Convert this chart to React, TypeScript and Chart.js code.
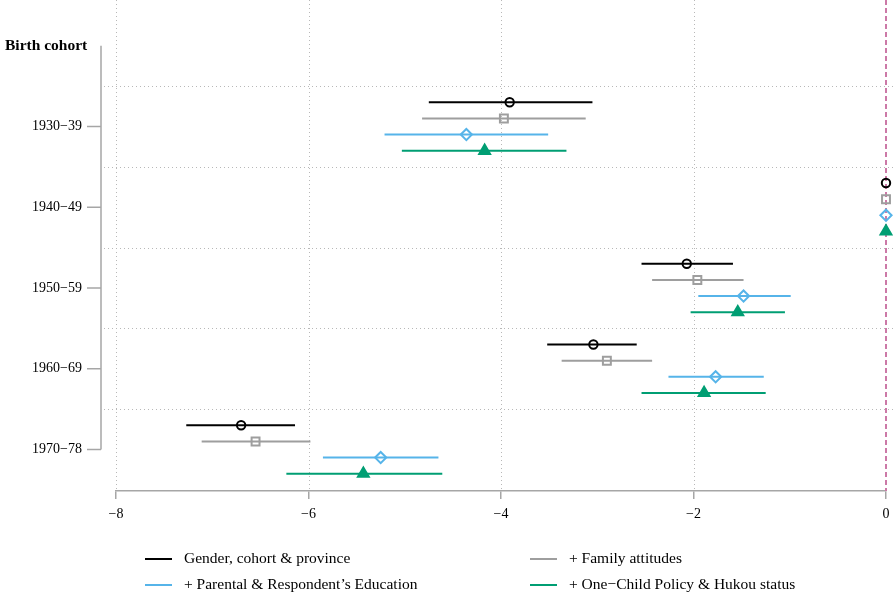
import React, { useEffect, useRef } from 'react';
import { Chart, registerables } from 'chart.js';

Chart.register(...registerables);

// ---- data ----
const cohorts = ['1930\u221239', '1940\u221249', '1950\u221259', '1960\u221269', '1970\u221278'];
const headerLabel = 'Birth cohort';
const seriesLabels = [
  'Gender, cohort & province',
  '+ Family attitudes',
  '+ Parental & Respondent\u2019s Education',
  '+ One\u2212Child Policy & Hukou status',
];
const xTicks = [-8, -6, -4, -2, 0];

const est1 = [-3.91, 0, -2.07, -3.04, -6.70];
const lo1 = [-4.75, 0, -2.54, -3.52, -7.27];
const hi1 = [-3.05, 0, -1.59, -2.59, -6.14];

const est2 = [-3.97, 0, -1.96, -2.90, -6.55];
const lo2 = [-4.82, 0, -2.43, -3.37, -7.11];
const hi2 = [-3.12, 0, -1.48, -2.43, -5.98];

const est3 = [-4.36, 0, -1.48, -1.77, -5.25];
const lo3 = [-5.21, 0, -1.95, -2.26, -5.85];
const hi3 = [-3.51, 0, -0.99, -1.27, -4.65];

const est4 = [-4.17, 0, -1.54, -1.89, -5.43];
const lo4 = [-5.03, 0, -2.03, -2.54, -6.23];
const hi4 = [-3.32, 0, -1.05, -1.25, -4.61];

// ---- styles ----
const colors = ['#000000', '#9e9e9e', '#56B4E9', '#009E73'];
const pointStyles = ['circle', 'rect', 'rectRot', 'triangle'];
const pointRadii = [4.2, 5.6, 5.6, 6.3];
const filled = [false, false, false, true];
const offsets = [-0.3, -0.1, 0.1, 0.3];
const W = 893;
const H = 598;
const FONT = '"Liberation Serif", "Times New Roman", serif';
const AXIS_GREY = '#a6a6a6';

export default function App() {
  const ref = useRef<HTMLCanvasElement>(null);

  useEffect(() => {
    const canvas = ref.current;
    if (!canvas) return;
    const series = [
      { est: est1, lo: lo1, hi: hi1 },
      { est: est2, lo: lo2, hi: hi2 },
      { est: est3, lo: lo3, hi: hi3 },
      { est: est4, lo: lo4, hi: hi4 },
    ];

    const datasets = series.map((s, i) => ({
      label: seriesLabels[i],
      data: s.est.map((v, j) => ({ x: v, y: j + offsets[i] })),
      pointStyle: pointStyles[i] as any,
      pointRadius: pointRadii[i],
      pointHoverRadius: pointRadii[i],
      pointBorderWidth: 2,
      borderColor: colors[i],
      backgroundColor: filled[i] ? colors[i] : 'rgba(0,0,0,0)',
      showLine: false,
      clip: false as any,
    }));

    const custom = {
      id: 'custom',
      beforeDatasetsDraw(chart: any) {
        const { ctx, chartArea, scales } = chart;
        const xs = scales.x;
        const ys = scales.y;
        ctx.save();
        // dotted vertical grid
        ctx.strokeStyle = '#b8b8b8';
        ctx.lineWidth = 1;
        ctx.setLineDash([1, 3]);
        xTicks.forEach((t) => {
          if (t === 0) return;
          const x = Math.round(xs.getPixelForValue(t)) + 0.5;
          ctx.beginPath();
          ctx.moveTo(x, chartArea.top);
          ctx.lineTo(x, chartArea.bottom);
          ctx.stroke();
        });
        // dotted horizontal separators
        for (let k = 0; k < cohorts.length; k++) {
          const y = Math.round(ys.getPixelForValue(k - 0.5)) + 0.5;
          ctx.beginPath();
          ctx.moveTo(104, y);
          ctx.lineTo(W, y);
          ctx.stroke();
        }
        // zero reference line
        ctx.strokeStyle = '#CC79A7';
        ctx.lineWidth = 2;
        ctx.setLineDash([5, 3]);
        const x0 = xs.getPixelForValue(0);
        ctx.beginPath();
        ctx.moveTo(x0, chartArea.top);
        ctx.lineTo(x0, chartArea.bottom);
        ctx.stroke();
        // y axis line + ticks
        ctx.setLineDash([]);
        ctx.strokeStyle = AXIS_GREY;
        ctx.lineWidth = 1.5;
        ctx.beginPath();
        ctx.moveTo(101, ys.getPixelForValue(-1));
        ctx.lineTo(101, ys.getPixelForValue(cohorts.length - 1));
        ctx.stroke();
        cohorts.forEach((_, k) => {
          const y = ys.getPixelForValue(k);
          ctx.beginPath();
          ctx.moveTo(87, y);
          ctx.lineTo(101, y);
          ctx.stroke();
        });
        // error bars
        ctx.lineWidth = 2;
        series.forEach((s, i) => {
          ctx.strokeStyle = colors[i];
          s.est.forEach((_, j) => {
            if (s.lo[j] === s.hi[j]) return;
            const y = ys.getPixelForValue(j + offsets[i]);
            ctx.beginPath();
            ctx.moveTo(xs.getPixelForValue(s.lo[j]), y);
            ctx.lineTo(xs.getPixelForValue(s.hi[j]), y);
            ctx.stroke();
          });
        });
        ctx.restore();
      },
      afterDraw(chart: any) {
        const { ctx, scales } = chart;
        const ys = scales.y;
        ctx.save();
        // header
        ctx.fillStyle = '#000';
        ctx.font = `bold 15.5px ${FONT}`;
        ctx.textAlign = 'left';
        ctx.textBaseline = 'middle';
        ctx.fillText(headerLabel, 5, ys.getPixelForValue(-1));
        // legend
        const cols = [145, 530];
        const rows = [559, 585];
        ctx.font = `15.5px ${FONT}`;
        seriesLabels.forEach((lab, i) => {
          const cx = cols[i % 2];
          const cy = rows[Math.floor(i / 2)];
          ctx.strokeStyle = colors[i];
          ctx.lineWidth = 2;
          ctx.beginPath();
          ctx.moveTo(cx, cy);
          ctx.lineTo(cx + 27, cy);
          ctx.stroke();
          ctx.fillStyle = '#000';
          ctx.fillText(lab, cx + 39, cy);
        });
        ctx.restore();
      },
    };

    const chart = new Chart(canvas, {
      type: 'scatter',
      data: { datasets: datasets as any },
      options: {
        responsive: false,
        animation: false,
        layout: { autoPadding: false, padding: { left: 0, right: 7, top: 0, bottom: 0 } },
        plugins: { legend: { display: false }, tooltip: { enabled: false }, title: { display: false } },
        scales: {
          x: {
            type: 'linear',
            min: -8,
            max: 0,
            afterFit: (s: any) => {
              s.height = 107;
              s.paddingLeft = 0;
              s.paddingRight = 0;
            },
            afterBuildTicks: (s: any) => { s.ticks = xTicks.map((v) => ({ value: v })); },
            ticks: {
              color: '#000',
              padding: 7,
              font: { family: FONT, size: 14 },
              callback: (v: any) => (Number(v) < 0 ? '\u2212' + Math.abs(Number(v)) : String(v)),
            },
            grid: { drawOnChartArea: false, drawTicks: true, tickLength: 8, color: AXIS_GREY, lineWidth: 1.5 },
            border: { display: true, color: AXIS_GREY, width: 1.5 },
          },
          y: {
            type: 'linear',
            reverse: true,
            min: -1.5666,
            max: 4.514,
            afterFit: (s: any) => {
              s.width = 116;
              s.paddingTop = 0;
              s.paddingBottom = 0;
            },
            afterBuildTicks: (s: any) => { s.ticks = cohorts.map((_, i) => ({ value: i })); },
            ticks: {
              color: '#000',
              padding: 34,
              autoSkip: false,
              font: { family: FONT, size: 14 },
              callback: (v: any) => cohorts[Math.round(Number(v))] ?? '',
            },
            grid: { display: false, drawTicks: false },
            border: { display: false },
          },
        },
      },
      plugins: [custom],
    });

    return () => chart.destroy();
  }, []);

  return (
    <div style={{ position: 'fixed', left: 0, top: 0, width: W, height: H, background: '#fff' }}>
      <canvas ref={ref} width={W} height={H} style={{ width: W, height: H, display: 'block' }} />
    </div>
  );
}
